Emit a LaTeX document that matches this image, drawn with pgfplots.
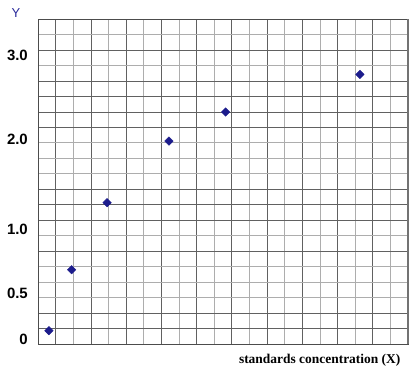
\documentclass[border=0pt]{standalone}
\usepackage{fontspec}
\setmainfont{Liberation Serif}
\newfontfamily\arial{Liberation Sans}
\usepackage{pgfplots}
\pgfplotsset{compat=1.18}
\definecolor{navy}{HTML}{1C1C8C}
\definecolor{ylab}{HTML}{2B2B9B}
\begin{document}
\begin{tikzpicture}
\useasboundingbox (-38bp,-25bp) rectangle (381bp,344bp);
\begin{axis}[
  scale only axis, width=370bp, height=325bp,
  at={(0,0)}, anchor=south west,
  xmin=0, xmax=21, ymin=0, ymax=21,
  xtick={1,3,...,19}, minor xtick={2,4,...,20},
  ytick={1,2,6,8,9,10,14,15,16,17,19}, minor ytick={3,4,5,7,11,12,13,18,20},
  xticklabels={}, yticklabels={},
  major tick length=0pt, minor tick length=0pt,
  grid=both,
  major grid style={draw=black!62, line width=0.7bp},
  minor grid style={draw=black!32, line width=0.7bp},
  axis line style={draw=black!70, line width=0.8bp},
  extra y ticks={0.32,3.3,7.43,13.25,18.67},
  extra y tick labels={0,0.5,1.0,2.0,3.0},
  extra y tick style={grid=none, major tick length=0pt,
    yticklabel style={font=\arial\bfseries\fontsize{15}{15}\selectfont, anchor=east, inner sep=0pt, xshift=-10bp}},
  ylabel={Y},
  ylabel style={rotate=-90, at={(axis description cs:-0.0595,1.0185)}, anchor=center,
    font=\arial\fontsize{13}{13}\selectfont, text=ylab},
  xlabel={standards concentration (X)},
  xlabel style={at={(axis description cs:0.989,-0.049)}, anchor=east,
    font=\bfseries\fontsize{13.5}{13.5}\selectfont},
  clip=false,
]
\addplot[only marks, mark=square*, mark size=3bp, mark options={rotate=45, fill=navy, draw=navy}]
  coordinates {(0.62,0.86) (1.91,4.80) (3.92,9.13) (7.43,13.11) (10.65,14.99) (18.27,17.42)};
\draw[black!55, line width=2bp] (rel axis cs:1,0) -- (rel axis cs:1,1);
\end{axis}
\end{tikzpicture}
\end{document}
